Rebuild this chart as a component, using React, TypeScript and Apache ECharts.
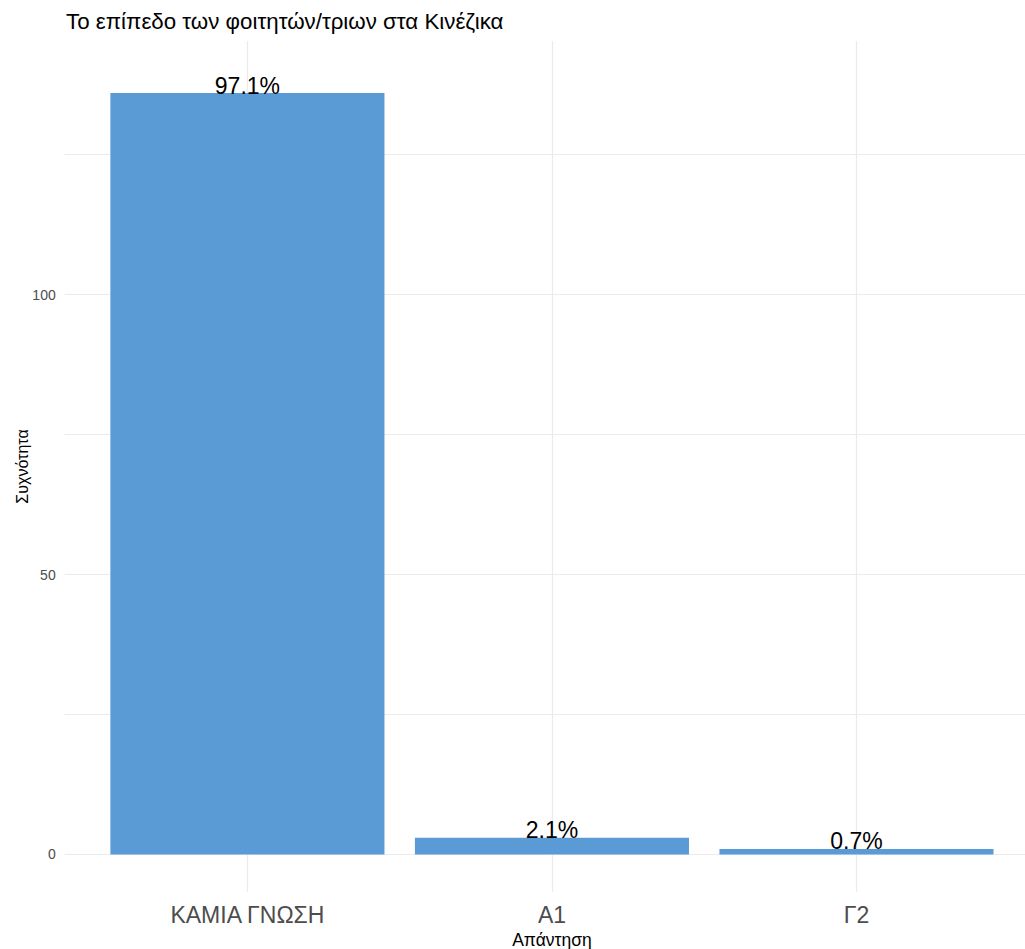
import React, { useEffect, useRef } from "react";
import * as echarts from "echarts";

const categories = ["ΚΑΜΙΑ ΓΝΩΣΗ", "Α1", "Γ2"];
const counts = [136, 3, 1];
const percentLabels = ["97.1%", "2.1%", "0.7%"];
const yTickLabels = [0, 50, 100];

const FONT = "'Liberation Sans', Arial, sans-serif";

export default function App() {
  const ref = useRef<HTMLDivElement>(null);
  useEffect(() => {
    if (!ref.current) return;
    const chart = echarts.init(ref.current, null, { renderer: "svg" });
    chart.setOption({
      animation: false,
      backgroundColor: "#ffffff",
      textStyle: { fontFamily: FONT },
      title: {
        text: "Το επίπεδο των φοιτητών/τριων στα Κινέζικα",
        left: 61,
        top: 5,
        textStyle: { fontFamily: FONT, fontSize: 22.3, fontWeight: "normal", color: "#000000" },
      },
      grid: { left: 64.7, top: 41, width: 974.5, bottom: 57, outerBoundsMode: "none", containLabel: false },
      xAxis: {
        type: "value",
        min: 0.4,
        max: 3.6,
        minInterval: 1,
        maxInterval: 1,
        name: "Απάντηση",
        nameLocation: "middle",
        nameGap: 39,
        nameTextStyle: { fontFamily: FONT, fontSize: 17.5, color: "#000000" },
        axisLine: { show: false },
        axisTick: { show: false },
        splitLine: {
          show: true,
          showMinLine: false,
          showMaxLine: false,
          lineStyle: { color: "#EBEBEB", width: 1.2 },
        },
        axisLabel: {
          fontFamily: FONT,
          fontSize: 23,
          color: "#4D4D4D",
          margin: 11,
          showMinLabel: false,
          showMaxLabel: false,
          formatter: (v: number) => {
            const i = Math.round(v) - 1;
            return Math.abs(v - Math.round(v)) < 1e-6 && categories[i] ? categories[i] : "";
          },
        },
      },
      yAxis: {
        type: "value",
        min: -6.7,
        max: 145.3,
        minInterval: 25,
        maxInterval: 25,
        name: "Συχνότητα",
        nameLocation: "middle",
        nameGap: 34,
        nameMoveOverlap: false,
        nameTextStyle: { fontFamily: FONT, fontSize: 16, color: "#000000" },
        axisLine: { show: false },
        axisTick: { show: false },
        splitLine: {
          show: true,
          showMinLine: false,
          showMaxLine: false,
          lineStyle: { color: "#EBEBEB", width: 1.2 },
        },
        axisLabel: {
          fontFamily: FONT,
          fontSize: 14,
          color: "#4D4D4D",
          margin: 9,
          showMinLabel: false,
          showMaxLabel: false,
          formatter: (v: number) => (yTickLabels.includes(v) ? String(v) : ""),
        },
      },
      series: [
        {
          type: "bar",
          data: counts.map((c, i) => [i + 1, c]),
          barWidth: "90%",
          itemStyle: { color: "#5B9BD5" },
          label: {
            show: true,
            position: "top",
            distance: -4,
            fontFamily: FONT,
            fontSize: 23,
            color: "#000000",
            formatter: (p: any) => percentLabels[p.dataIndex],
          },
        },
      ],
    });
    return () => chart.dispose();
  }, []);
  return (
    <div
      ref={ref}
      style={{ position: "absolute", left: 0, top: 0, width: 1025, height: 949 }}
    />
  );
}
